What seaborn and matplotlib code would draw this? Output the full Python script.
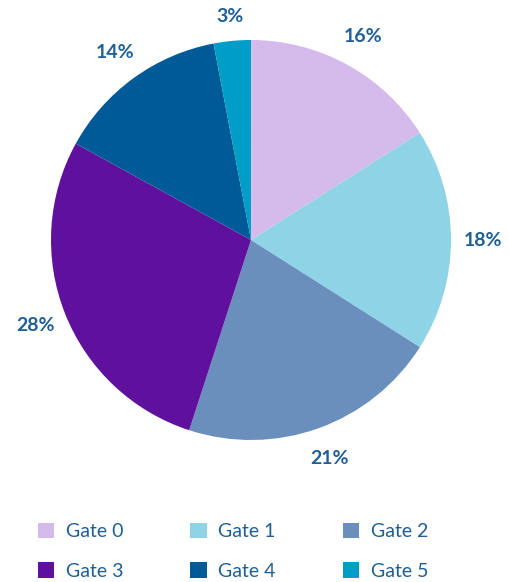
import matplotlib
matplotlib.use("Agg")
import matplotlib.pyplot as plt
import seaborn as sns
import numpy as np
from matplotlib.patches import Patch

categories = ["Gate 0", "Gate 1", "Gate 2", "Gate 3", "Gate 4", "Gate 5"]
values = [16, 18, 21, 28, 14, 3]
colors = ["#d4bbeb", "#8fd4e6", "#6b8fbd", "#5f109c", "#005a98", "#009ec6"]
text_color = "#1f5f96"

sns.set_theme(style="white")
plt.rcParams["font.family"] = ["Lato", "DejaVu Sans"]

fig = plt.figure(figsize=(5.10, 5.82), dpi=100)
ax = fig.add_axes([0, 0, 1, 1])
cx, cy, r = 251, 342, 200

wedges, texts, autotexts = ax.pie(
    values, colors=colors, startangle=90, counterclock=False,
    center=(cx, cy), radius=r,
    autopct=lambda p: f"{p:.0f}%", pctdistance=1.16,
    wedgeprops=dict(linewidth=0),
    textprops=dict(color=text_color, fontsize=14, fontweight="bold"),
)
# small slice label sits a bit closer
for v, t in zip(values, autotexts):
    if v < 5:
        x, y = t.get_position()
        t.set_position((cx + (x - cx) * 1.12 / 1.16, cy + (y - cy) * 1.12 / 1.16))

ax.set_xlim(0, 510)
ax.set_ylim(0, 582)
ax.axis("off")

handles = [Patch(facecolor=c, edgecolor="none") for c in colors]
order = [0, 3, 1, 4, 2, 5]
fig.legend([handles[i] for i in order], [categories[i] for i in order],
           ncol=3, loc="upper left", bbox_to_anchor=(20/510, 1 - 505/582),
           frameon=False, fontsize=14, labelcolor=text_color,
           handlelength=0.85, handleheight=0.85, handletextpad=0.6,
           columnspacing=3.45, labelspacing=1.15)

fig.savefig("out.png", dpi=100)
